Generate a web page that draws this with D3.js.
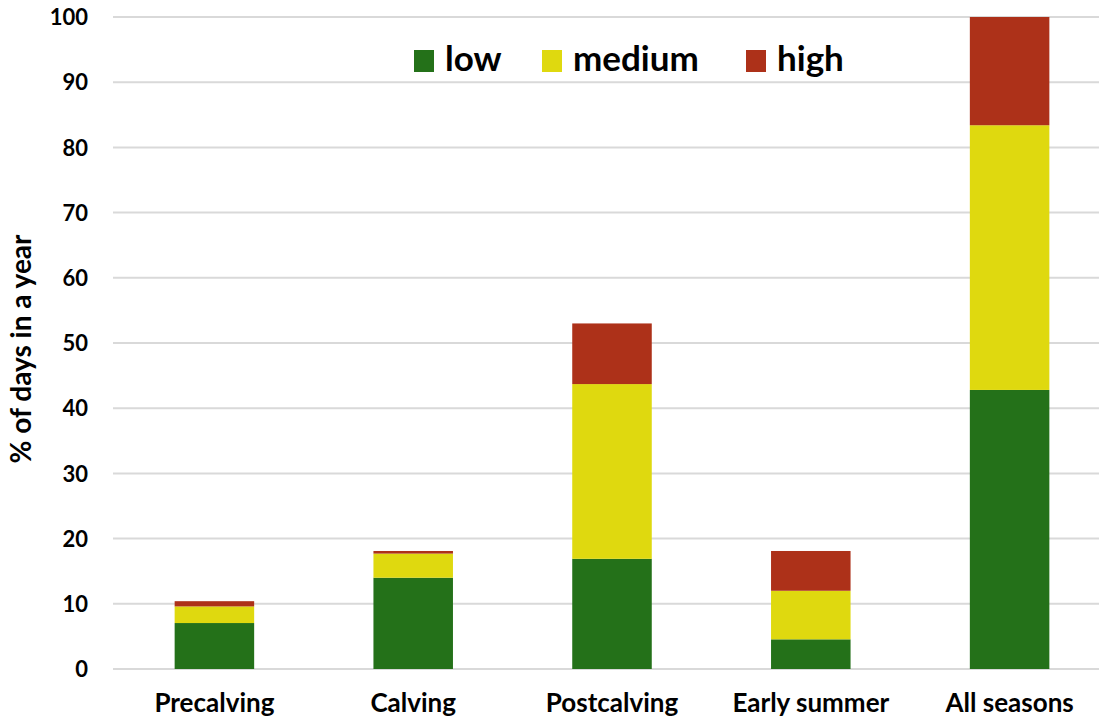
<!DOCTYPE html>
<html>
<head>
<meta charset="utf-8">
<script src="https://cdn.jsdelivr.net/npm/d3@7"></script>
<style>
  html, body { margin: 0; padding: 0; background: #fff; }
  svg { display: block; font-family: Lato, "Open Sans", sans-serif; }
</style>
</head>
<body>
<svg id="chart" width="1099" height="721"></svg>
<script>
const categories = ["Precalving", "Calving", "Postcalving", "Early summer", "All seasons"];
const seriesNames = ["low", "medium", "high"];
const lowValues = [7.05, 14.0, 16.9, 4.55, 42.8];
const mediumValues = [2.55, 3.7, 26.8, 7.45, 40.6];
const highValues = [0.8, 0.4, 9.3, 6.1, 16.6];
const yTicks = [0, 10, 20, 30, 40, 50, 60, 70, 80, 90, 100];
const colors = ["#247119", "#dfd90f", "#ad3119"];

const svg = d3.select("#chart");
const margin = { left: 115, right: -10, top: 17, bottom: 52 };
const W = 1099, H = 721;

const x = d3.scaleBand().domain(categories).range([margin.left, W - margin.right]).paddingInner(0.6).paddingOuter(0.3);
const y = d3.scaleLinear().domain([0, 100]).range([669, 17]);

const table = categories.map((c, i) => ({ cat: c, low: lowValues[i], medium: mediumValues[i], high: highValues[i] }));
const stacked = d3.stack().keys(seriesNames)(table);

// gridlines
svg.append("g")
  .selectAll("line").data(yTicks).join("line")
  .attr("x1", 113).attr("x2", W)
  .attr("y1", d => y(d)).attr("y2", d => y(d))
  .attr("stroke", "#d9d9d9").attr("stroke-width", 2);

// bars
svg.append("g").selectAll("g").data(stacked).join("g")
  .attr("fill", (d, i) => colors[i])
  .selectAll("rect").data(d => d).join("rect")
  .attr("x", d => x(d.data.cat))
  .attr("width", x.bandwidth())
  .attr("y", d => y(d[1]))
  .attr("height", d => y(d[0]) - y(d[1]));

// y axis
const yAxis = d3.axisLeft(y).tickValues(yTicks).tickSize(0).tickPadding(0);
const yg = svg.append("g").attr("transform", "translate(88,0)").call(yAxis);
yg.select(".domain").remove();
yg.selectAll("text").attr("font-size", 22).attr("font-weight", "bold").attr("fill", "#000")
  .attr("font-family", "Lato, sans-serif").attr("dy", "0.35em");

// x axis
const xAxis = d3.axisBottom(x).tickSize(0).tickPadding(0);
const xg = svg.append("g").attr("transform", "translate(0,712)").call(xAxis);
xg.select(".domain").remove();
xg.selectAll("text").attr("font-size", 26).attr("font-weight", "bold").attr("fill", "#000")
  .attr("font-family", "Lato, sans-serif").attr("dy", "0").attr("y", 0);

// y axis title
svg.append("text")
  .attr("transform", "translate(31,349) rotate(-90)")
  .attr("text-anchor", "middle")
  .attr("font-size", 28).attr("font-weight", "bold").attr("fill", "#000")
  .text("% of days in a year");

// legend
const legendX = [414, 542, 746];
const lg = svg.append("g");
seriesNames.forEach((s, i) => {
  lg.append("rect").attr("x", legendX[i]).attr("y", 50).attr("width", 20).attr("height", 22).attr("fill", colors[i]);
  lg.append("text").attr("x", legendX[i] + 31).attr("y", 71)
    .attr("font-size", 35).attr("font-weight", "bold").attr("fill", "#000").text(s);
});
</script>
</body>
</html>
